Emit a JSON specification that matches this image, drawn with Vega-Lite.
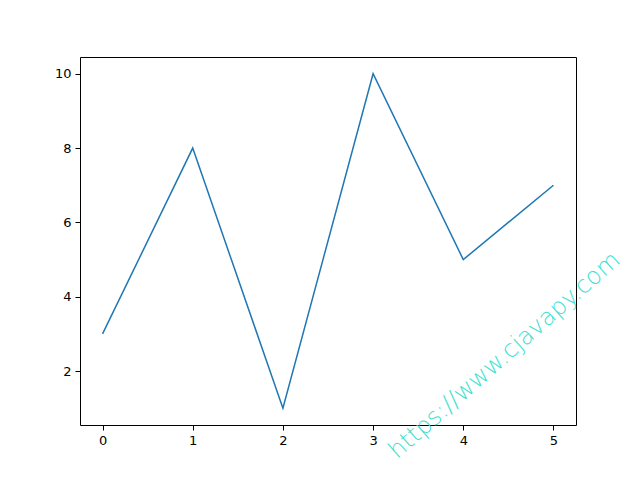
{
  "$schema": "https://vega.github.io/schema/vega-lite/v6.json",
  "width": 496,
  "height": 368,
  "autosize": "none",
  "padding": {"left": 80, "top": 57, "right": 64, "bottom": 53},
  "background": "white",
  "config": {
    "view": {"stroke": "black", "strokeWidth": 1},
    "axis": {
      "grid": false,
      "domain": false,
      "tickColor": "black",
      "tickSize": 5,
      "tickWidth": 1,
      "labelColor": "black",
      "labelFont": "DejaVu Sans",
      "labelFontSize": 13,
      "labelPadding": 4,
      "title": null
    }
  },
  "datasets": {
    "series": [
      {"x": 0, "y": 3},
      {"x": 1, "y": 8},
      {"x": 2, "y": 1},
      {"x": 3, "y": 10},
      {"x": 4, "y": 5},
      {"x": 5, "y": 7}
    ],
    "mark": [
      {"x": 4.46, "y": 2.42, "label": "https://www.cjavapy.com"}
    ]
  },
  "layer": [
    {
      "data": {"name": "series"},
      "mark": {"type": "line", "color": "#1f77b4", "strokeWidth": 1.5},
      "encoding": {
        "x": {"field": "x", "type": "quantitative", "scale": {"domain": [-0.25, 5.25], "nice": false, "zero": false},
              "axis": {"values": [0, 1, 2, 3, 4, 5], "format": "d"}},
        "y": {"field": "y", "type": "quantitative", "scale": {"domain": [0.55, 10.45], "nice": false, "zero": false},
              "axis": {"values": [2, 4, 6, 8, 10], "format": "d"}}
      }
    },
    {
      "data": {"name": "mark"},
      "mark": {"type": "text", "color": "#40e0d0", "font": "DejaVu Sans", "fontWeight": 200, "fontSize": 24, "angle": 318.6, "align": "center", "baseline": "middle"},
      "encoding": {
        "x": {"field": "x", "type": "quantitative"},
        "y": {"field": "y", "type": "quantitative"},
        "text": {"field": "label"}
      }
    }
  ]
}
